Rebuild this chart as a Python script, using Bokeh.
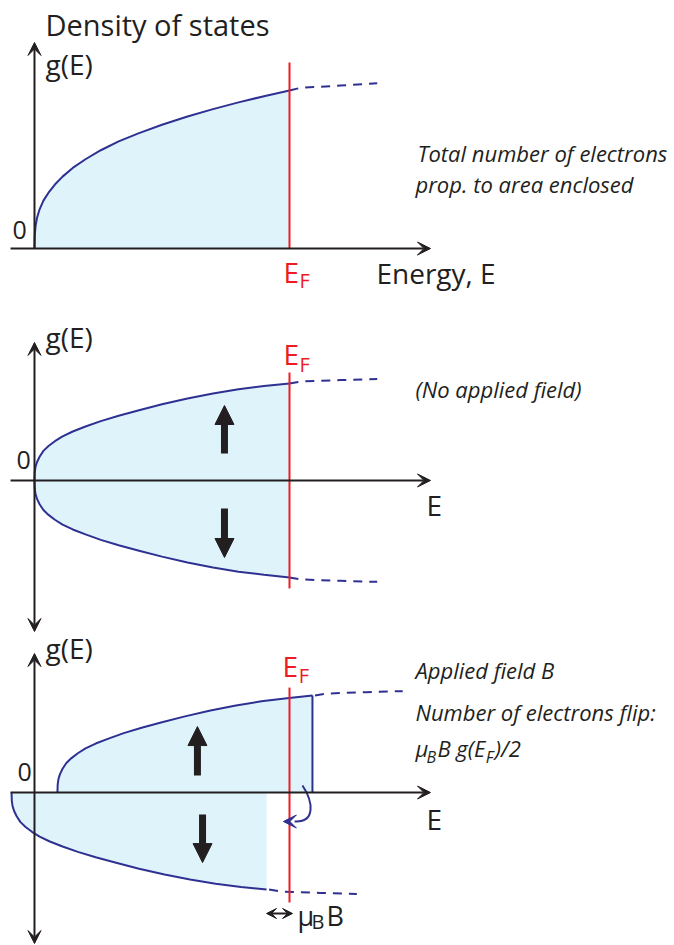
from bokeh.plotting import figure
from bokeh.models import Range1d, Arrow, VeeHead, NormalHead, Label
from bokeh.embed import file_html
from bokeh.resources import INLINE

# Total density of states g(E): E in units of E_F, g in units of g(E_F)
E_dos = [0, 0.001, 0.004, 0.01, 0.02, 0.035, 0.055, 0.08, 0.11, 0.15, 0.2, 0.26,
         0.33, 0.41, 0.5, 0.6, 0.7, 0.8, 0.9, 1.0]
g_dos = [0, 0.08, 0.14, 0.195, 0.248, 0.303, 0.353, 0.405, 0.455, 0.51, 0.565, 0.622,
         0.678, 0.73, 0.783, 0.835, 0.882, 0.925, 0.964, 1.0]
E_dos_ext = [1.0, 1.043, 1.2, 1.344]
g_dos_ext = [1.0, 1.017, 1.031, 1.046]

# Density of states for one spin direction (half of the total)
E_spin = [0, 0.001, 0.004, 0.01, 0.02, 0.035, 0.055, 0.08, 0.11, 0.15, 0.2, 0.26,
          0.33, 0.41, 0.5, 0.6, 0.7, 0.8, 0.9, 1.0]
g_spin = [0, 0.085, 0.14, 0.19, 0.245, 0.305, 0.355, 0.405, 0.455, 0.505, 0.556, 0.612,
          0.668, 0.724, 0.785, 0.846, 0.897, 0.94, 0.973, 1.0]
E_spin_ext = [1.0, 1.043, 1.2, 1.344]
g_spin_ext = [1.0, 1.02, 1.035, 1.045]

E_F = 1.0
zeeman = 0.09  # mu_B B, in units of E_F

INK = "#231f20"
NAVY = "#2e3192"
RED = "#ed1c24"
FILL = "#dff3fb"
FONT = "Open Sans"

p = figure(width=674, height=945, x_range=Range1d(-0.1333, 2.5098),
           y_range=Range1d(-4.411, 1.5696), output_backend="svg",
           toolbar_location=None, min_border=0, x_axis_location=None,
           y_axis_location=None, outline_line_color=None)
p.grid.visible = False
# each panel gets its own g(E) scale
p.extra_y_ranges = {"p2": Range1d(-4.794, 4.948), "p3": Range1d(-1.577, 8.165)}

CURVE = dict(line_color=NAVY, line_width=2, line_join="round")


def shift(xs, d):
    return [x + d for x in xs]


def neg(ys):
    return [-y for y in ys]


def label(x, y, text, rng, size, color=INK, style="normal"):
    p.add_layout(Label(x=x, y=y, text=text, y_range_name=rng, text_font=FONT,
                       text_font_size=f"{size}px", text_color=color,
                       text_font_style=style, text_baseline="middle"))


def axes(rng, y_lo, y_hi, both):
    head = dict(size=13, fill_color=INK, line_color=INK, line_width=1)
    p.add_layout(Arrow(end=VeeHead(**head), x_start=-0.094, y_start=0, x_end=1.553, y_end=0,
                       line_width=2, line_color=INK, y_range_name=rng))
    p.add_layout(Arrow(end=VeeHead(**head), start=VeeHead(**head) if both else None,
                       x_start=0, y_start=y_lo, x_end=0, y_end=y_hi,
                       line_width=2, line_color=INK, y_range_name=rng))


def spin(x, y0, y1, rng):
    p.add_layout(Arrow(end=NormalHead(size=19, fill_color=INK, line_color=INK, line_width=1),
                       x_start=x, y_start=y0, x_end=x, y_end=y1, line_width=7,
                       line_color=INK, line_cap="butt", y_range_name=rng))


def fermi(rng, y_lo, y_hi, x=E_F):
    p.segment(x0=[x], y0=[y_lo], x1=[x], y1=[y_hi], line_color=RED, line_width=2,
              y_range_name=rng)


def fermi_label(rng, y_e, y_f, x=0.976):
    label(x, y_e, "E", rng, 28, RED)
    label(x + 0.063, y_f, "F", rng, 20, RED)


# ---- Panel 1: total density of states ----
p.varea(x=E_dos, y1=[0] * len(E_dos), y2=g_dos, fill_color=FILL)
p.line(E_dos, g_dos, **CURVE)
p.line(E_dos_ext, g_dos_ext, line_dash="9 7", **CURVE)
axes("default", 0, 1.304, False)
fermi("default", 0, 1.177)
label(0.043, 1.418, "Density of states", "default", 29)
label(0.043, 1.168, "g(E)", "default", 28)
label(-0.086, 0.117, "0", "default", 25)
fermi_label("default", -0.149, -0.203)
label(1.341, -0.152, "Energy, E", "default", 28)
label(1.502, 0.604, "Total number of electrons", "default", 22, style="italic")
label(1.494, 0.411, "prop. to area enclosed", "default", 22, style="italic")

# ---- Panel 2: spin-up / spin-down halves, no field ----
p.varea(x=E_spin, y1=[0] * len(E_spin), y2=g_spin, fill_color=FILL, y_range_name="p2")
p.varea(x=E_spin, y1=neg(g_spin), y2=[0] * len(E_spin), fill_color=FILL, y_range_name="p2")
for sgn in (1, -1):
    p.line(E_spin, [sgn * g for g in g_spin], y_range_name="p2", **CURVE)
    p.line(E_spin_ext, [sgn * g for g in g_spin_ext], line_dash="9 7", y_range_name="p2",
           **CURVE)
axes("p2", -1.557, 1.423, True)
fermi("p2", -1.113, 1.113)
spin(0.745, 0.278, 0.773, "p2")
spin(0.745, -0.289, -0.794, "p2")
label(0.043, 1.474, "g(E)", "p2", 28)
label(-0.071, 0.211, "0", "p2", 25)
fermi_label("p2", 1.299, 1.196)
label(1.537, -0.258, "E", "p2", 28)
label(1.494, 0.948, "(No applied field)", "p2", 22, style="italic")

# ---- Panel 3: applied field B shifts the two halves by +/- mu_B B ----
E_up = shift(E_spin, zeeman)
E_dn = shift(E_spin, -zeeman)
p.varea(x=E_up, y1=[0] * len(E_up), y2=g_spin, fill_color=FILL, y_range_name="p3")
p.varea(x=E_dn, y1=neg(g_spin), y2=[0] * len(E_dn), fill_color=FILL, y_range_name="p3")
p.line(E_up, g_spin, y_range_name="p3", **CURVE)
p.line(E_dn, neg(g_spin), y_range_name="p3", **CURVE)
p.segment(x0=[E_up[-1]], y0=[0], x1=[E_up[-1]], y1=[g_spin[-1]], line_color=NAVY,
          line_width=2, y_range_name="p3")
p.line(shift(E_spin_ext, zeeman + 0.01), g_spin_ext, line_dash="9 7", y_range_name="p3",
       **CURVE)
p.line(shift(E_spin_ext, -zeeman + 0.01), neg(g_spin_ext), line_dash="9 7",
       y_range_name="p3", **CURVE)
axes("p3", -1.557, 1.433, True)
fermi("p3", -1.134, 1.082)
spin(0.639, 0.175, 0.68, "p3")
spin(0.659, -0.227, -0.722, "p3")

# flipped electrons: curved arrow from spin-up excess to spin-down hole
p.bezier(x0=[1.051], y0=[0.072], x1=[1.02], y1=[-0.299], cx0=[1.094], cy0=[-0.1],
         cx1=[1.102], cy1=[-0.31], line_color=NAVY, line_width=2, y_range_name="p3")
p.add_layout(Arrow(end=VeeHead(size=13, fill_color=NAVY, line_color=NAVY, line_width=1),
                   x_start=1.03, y_start=-0.299, x_end=0.976, y_end=-0.299,
                   line_alpha=0, y_range_name="p3"))

# mu_B B spacing marker
two_head = dict(size=10, fill_color=INK, line_color=INK, line_width=1)
p.add_layout(Arrow(start=VeeHead(**two_head), end=VeeHead(**two_head),
                   x_start=E_F - zeeman, y_start=-1.247, x_end=E_F + 0.012, y_end=-1.247,
                   line_width=2, line_color=INK, y_range_name="p3"))
label(1.031, -1.263, "μ", "p3", 27)
label(1.086, -1.325, "B", "p3", 20)
label(1.145, -1.263, "B", "p3", 27)

label(0.043, 1.485, "g(E)", "p3", 28)
label(-0.067, 0.211, "0", "p3", 25)
fermi_label("p3", 1.309, 1.206, x=0.973)
label(1.537, -0.268, "E", "p3", 28)
label(1.494, 1.268, "Applied field B", "p3", 22, style="italic")
label(1.494, 0.825, "Number of electrons flip:", "p3", 22, style="italic")
label(1.494, 0.464, "μ", "p3", 22, style="italic")
label(1.537, 0.371, "B", "p3", 16, style="italic")
label(1.58, 0.464, "B g(E", "p3", 22, style="italic")
label(1.77, 0.371, "F", "p3", 16, style="italic")
label(1.805, 0.464, ")/2", "p3", 22, style="italic")

open("out.html", "w").write(file_html(p, INLINE))
